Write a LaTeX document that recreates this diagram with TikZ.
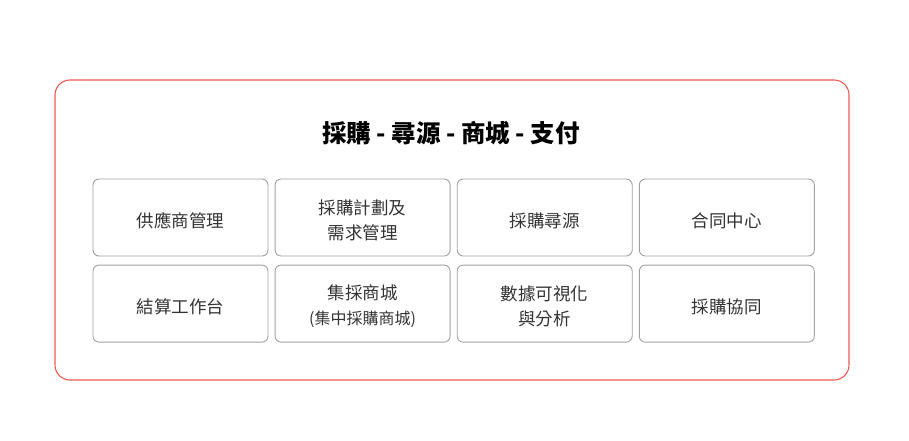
\documentclass[tikz,border=0pt]{standalone}
\usepackage{fontspec}
\newfontfamily\cjk{Noto Sans CJK TC}
\usepackage{tikz}
\usetikzlibrary{positioning}
\definecolor{framered}{HTML}{EE5A52}
\definecolor{boxgray}{HTML}{A0A0A0}
\definecolor{textgray}{HTML}{333333}

\begin{document}
\begin{tikzpicture}[x=1pt, y=1pt,
    modbox/.style={draw=boxgray, line width=0.9pt, rounded corners=6pt,
      minimum width=175pt, minimum height=77pt, inner sep=0pt},
    every label/.style={yshift=-3pt, align=center, text=textgray,
      font=\cjk\fontsize{17.5}{25}\selectfont, inner sep=0pt}]
  \useasboundingbox (0,0) rectangle (909,440);
  \draw [framered, line width=1.1pt, rounded corners=15pt] (55,60) rectangle (849,360);
  \node (title) at (451,307) {\cjk\bfseries\fontsize{24.5}{28}\selectfont 採購 - 尋源 - 商城 - 支付};
  % top row
  \node [modbox, label={center:供應商管理}] (supplier) at (180.5,222.5) {};
  \node [modbox, right=6.2pt of supplier, label={center:採購計劃及\\需求管理}] (plan) {};
  \node [modbox, right=6.2pt of plan, label={center:採購尋源}] (sourcing) {};
  \node [modbox, right=6.2pt of sourcing, label={center:合同中心}] (contract) {};
  % bottom row
  \node [modbox, below=8.2pt of supplier, label={center:結算工作台}] (settle) {};
  \node [modbox, below=8.2pt of plan,
    label={center:集採商城\\{\fontsize{16}{20}\selectfont (集中採購商城)}}] (mall) {};
  \node [modbox, below=8.2pt of sourcing, label={center:數據可視化\\與分析}] (data) {};
  \node [modbox, below=8.2pt of contract, label={center:採購協同}] (collab) {};
\end{tikzpicture}
\end{document}
